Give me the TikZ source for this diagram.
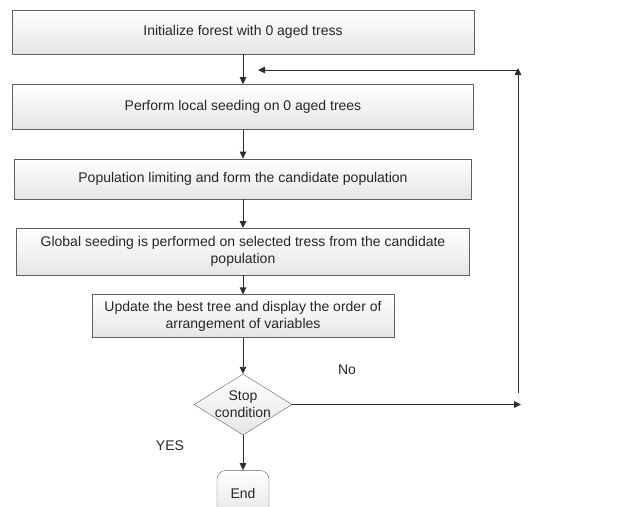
\documentclass[tikz,border=0pt]{standalone}
\usepackage{fontspec}
\setmainfont{Liberation Sans}
\usetikzlibrary{positioning,shapes.geometric,arrows.meta}

\tikzset{
  stepbox/.style={draw=gray!75!black, top color=white, bottom color=gray!20, align=center,
    text=black!85, font=\fontsize{14}{17}\selectfont, inner sep=2pt},
  decide/.style={diamond, draw=gray!75!black, top color=white, bottom color=gray!20, align=center,
    text=black!85, font=\fontsize{14}{17}\selectfont, inner sep=-2pt, aspect=1.6,
    minimum width=98pt, minimum height=61pt},
  endbox/.style={stepbox, rounded corners=9pt, minimum width=52pt, minimum height=46pt},
  flow/.style={draw=gray!35!black, line width=0.9pt, -{Triangle[length=7pt,width=6.5pt]}},
  lbl/.style={text=black!85, font=\fontsize{14}{17}\selectfont},
}

\begin{document}
\begin{tikzpicture}[x=1pt,y=-1pt]
  \useasboundingbox (0,0) rectangle (621,506);
  \clip (0,0) rectangle (621,506);
  \node (1) [stepbox, minimum width=462pt, minimum height=44pt] at (243,32) {Initialize forest with 0 aged tress};
  \node (2) [stepbox, minimum width=461pt, minimum height=45pt, below=30pt of 1] {Perform local seeding on 0 aged trees};
  \node (3) [stepbox, minimum width=457pt, minimum height=40pt, below=29pt of 2] {Population limiting and form the candidate population};
  \node (4) [stepbox, minimum width=453pt, minimum height=47pt, below=29pt of 3] {Global seeding is performed on selected tress from the candidate\\population};
  \node (5) [stepbox, minimum width=302pt, minimum height=43pt, below=19pt of 4] {Update the best tree and display the order of\\arrangement of variables};
  \node (6) [decide, below=36pt of 5] {Stop\\condition};
  \node (7) [endbox, below=35pt of 6] {End};
  \node (no) [lbl] at (347,370) {No};
  \node (yes) [lbl] at (170,446) {YES};
  % loop back
  \coordinate (r1) at (521,0 |- 6);
  \coordinate (r2) at (518,393);
  \coordinate (r3) at (518,68);
  \coordinate (r4) at (258,70);
  \coordinate (r5) at (518,70);
  \draw[flow] (1) -- (2);
  \draw[flow] (2) -- (3);
  \draw[flow] (3) -- (4);
  \draw[flow] (4) -- (5);
  \draw[flow] (5) -- (6);
  \draw[flow] (6) -- (7);
  \draw[flow] (6) -- (r1);
  \draw[flow] (r2) -- (r3);
  \draw[flow] (r5) -- (r4);
\end{tikzpicture}
\end{document}
